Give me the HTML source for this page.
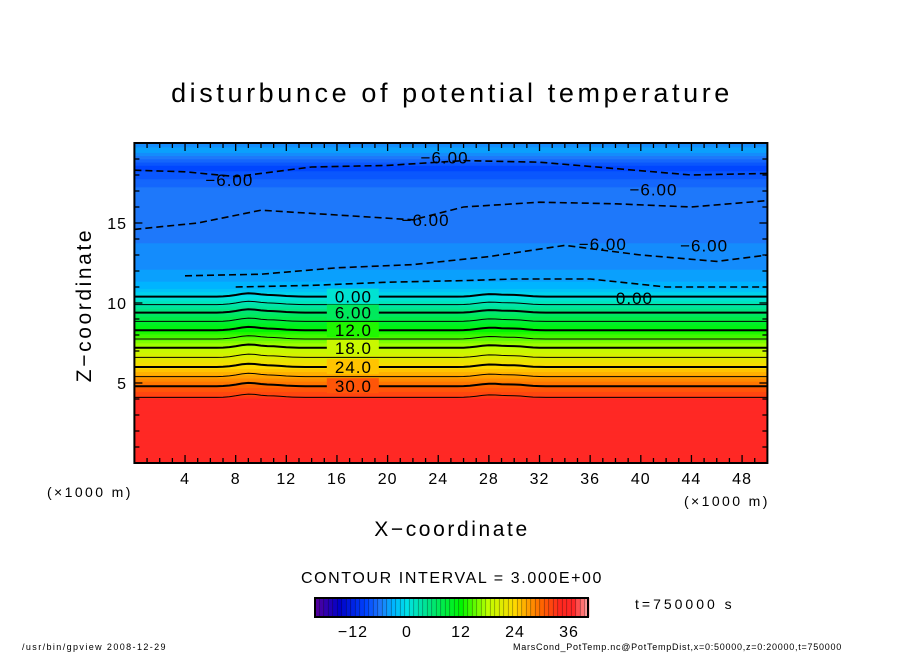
<!DOCTYPE html>
<html><head><meta charset="utf-8"><style>
html,body{margin:0;padding:0;background:#fff;}
svg{display:block;font-family:"Liberation Sans",sans-serif;}
</style></head><body>
<svg id="chart" width="904" height="654" viewBox="0 0 904 654">
<text x="452" y="102" text-anchor="middle" font-size="27" letter-spacing="3.6">disturbunce of potential temperature</text>
<g id="field"></g>
<g id="contours"></g>
<g id="axes"></g>
<text x="47" y="497" font-size="14" letter-spacing="2.4">(×1000 m)</text>
<text x="684" y="506" font-size="14" letter-spacing="2.4">(×1000 m)</text>
<text x="452" y="536" text-anchor="middle" font-size="21" letter-spacing="2.6">X−coordinate</text>
<text transform="translate(91,305) rotate(-90)" text-anchor="middle" font-size="21" letter-spacing="2.6">Z−coordinate</text>
<text x="452" y="583" text-anchor="middle" font-size="16" letter-spacing="1.6">CONTOUR INTERVAL = 3.000E+00</text>
<g id="cbar"></g>
<text x="635" y="609" font-size="14" letter-spacing="3">t=750000 s</text>
<text x="22" y="650" font-size="9" letter-spacing="1.4">/usr/bin/gpview   2008-12-29</text>
<text x="513" y="650" font-size="9" letter-spacing="0.75">MarsCond_PotTemp.nc@PotTempDist,x=0:50000,z=0:20000,t=750000</text>
</svg>
<script>
const xTicks=[4,8,12,16,20,24,28,32,36,40,44,48];
const zTicks=[5,10,15];
const profileZ=[0,3.9,4.1,4.8,6.0,7.2,8.3,9.4,10.4,11.0,12.5,15,17,18.5,19.5,20];
const profileT=[36,36,33,30,24,18,12,6,0,-3,-5,-6,-6,-9,-4,-5];
const contourLevels=[0,3,6,9,12,15,18,21,24,27,30,33];
const bumpX=[9,11,28,30];
const bumpDz=[0.2,0.08,0.15,0.1];
const cbarTicks=[-12,0,12,24,36];
const dash1=[[0,18.3],[4,18.2],[8,17.9],[14,18.5],[20,18.6],[26,18.9],[32,18.8],[38,18.4],[44,18.0],[50,18.1]];
const dash2=[[0,14.6],[5,15.0],[10,15.8],[16,15.5],[22,15.2],[26,16.0],[32,16.3],[38,16.2],[44,16.0],[50,16.4]];
const dash3=[[4,11.7],[10,11.8],[16,12.2],[22,12.4],[28,12.9],[34,13.6],[40,13.0],[46,12.6],[50,13.0]];
const dash4=[[8,11.0],[14,11.1],[20,11.3],[26,11.4],[30,11.5],[36,11.5],[42,11.0],[50,11.0]];
const ns='http://www.w3.org/2000/svg';
const X0=134.4,XS=12.66,Z0=463,ZS=16;
const sx=x=>X0+x*XS, sz=z=>Z0-z*ZS;
const stops=[[-21,[96,0,150]],[-15,[0,0,200]],[-9,[0,70,255]],[-6,[30,120,250]],[-3,[0,180,255]],[0,[0,225,230]],[6,[0,230,110]],[12,[0,245,0]],[18,[190,255,0]],[24,[255,215,0]],[30,[255,100,0]],[34,[255,40,30]],[37,[255,40,40]],[40,[255,150,150]]];
function col(t){t=Math.round(t);if(t<=stops[0][0])return 'rgb('+stops[0][1]+')';
for(let i=1;i<stops.length;i++){if(t<=stops[i][0]){const a=stops[i-1],b=stops[i],f=(t-a[0])/(b[0]-a[0]);
return 'rgb('+a[1].map((v,k)=>Math.round(v+(b[1][k]-v)*f)).join(',')+')';}}return 'rgb('+stops[stops.length-1][1]+')';}
function theta(z){for(let i=1;i<profileZ.length;i++){if(z<=profileZ[i]){const f=(z-profileZ[i-1])/(profileZ[i]-profileZ[i-1]);return profileT[i-1]+(profileT[i]-profileT[i-1])*f;}}return profileT[profileT.length-1];}
function mk(tag,attrs,parent){const e=document.createElementNS(ns,tag);for(const k in attrs)e.setAttribute(k,attrs[k]);parent.appendChild(e);return e;}
const field=document.getElementById('field');
for(let z=0;z<20;z+=0.05){
const r=mk('rect',{x:sx(0),y:sz(z+0.05)-0.3,width:sx(50)-sx(0),height:ZS*0.05+0.6,fill:col(theta(z+0.025))},field);

}
const cont=document.getElementById('contours');
function bump(x){let d=0;for(let i=0;i<bumpX.length;i++){d+=bumpDz[i]*Math.exp(-Math.pow((x-bumpX[i])/1.2,2));}return d;}
function zOf(level){for(let i=1;i<profileZ.length;i++){const a=profileT[i-1],b=profileT[i];if((a-level)*(b-level)<=0&&a!==b){return profileZ[i-1]+(level-a)/(b-a)*(profileZ[i]-profileZ[i-1]);}}return null;}
contourLevels.forEach(l=>{const z=zOf(l);if(z===null)return;let d='';
for(let x=0;x<=50;x+=0.5){d+=(x?'L':'M')+sx(x).toFixed(1)+','+sz(z+bump(x)).toFixed(1);}
const p=mk('path',{d:d,fill:'none',stroke:'#000','stroke-width':(l%6===0)?2:1},cont);


if(l%6===0&&l<=30){const lab=(l<10?l.toFixed(2):l.toFixed(1));
const bg=mk('rect',{x:sx(15.2),y:sz(z)-8,width:52,height:15,fill:col(l+1)},cont);


const t=mk('text',{x:sx(17.3),y:sz(z)+6,'text-anchor':'middle','font-size':17,'letter-spacing':1},cont);t.textContent=lab;

}});
[dash1,dash2,dash3,dash4].forEach((arr,i)=>{const d=arr.map((p,j)=>(j?'L':'M')+sx(p[0]).toFixed(1)+','+sz(p[1]).toFixed(1)).join('');
const p=mk('path',{d:d,fill:'none',stroke:'#000','stroke-width':1.6,'stroke-dasharray':'7,4'},cont);

});
const labs=[[24.5,19.1,'−6.00'],[7.5,17.7,'−6.00'],[23,15.2,'−6.00'],[41,17.1,'−6.00'],[37,13.7,'−6.00'],[45,13.6,'−6.00'],[39.5,10.3,'0.00']];
labs.forEach(a=>{const t=mk('text',{x:sx(a[0]),y:sz(a[1])+6,'text-anchor':'middle','font-size':17,'letter-spacing':1},cont);t.textContent=a[2];

});
const ax=document.getElementById('axes');
const fr=mk('rect',{x:sx(0),y:sz(20),width:sx(50)-sx(0),height:sz(0)-sz(20),fill:'none',stroke:'#000','stroke-width':2},ax);


for(let x=1;x<50;x++){const L=x%4===0?8:5;
mk('line',{x1:sx(x),x2:sx(x),y1:sz(0),y2:sz(0)-L,stroke:'#000','stroke-width':1.3},ax);
mk('line',{x1:sx(x),x2:sx(x),y1:sz(20),y2:sz(20)+L,stroke:'#000','stroke-width':1.3},ax);}
for(let z=1;z<20;z++){const L=z%5===0?8:5;
mk('line',{x1:sx(0),x2:sx(0)+L,y1:sz(z),y2:sz(z),stroke:'#000','stroke-width':1.3},ax);
mk('line',{x1:sx(50),x2:sx(50)-L,y1:sz(z),y2:sz(z),stroke:'#000','stroke-width':1.3},ax);}
xTicks.forEach(v=>{const t=mk('text',{x:sx(v),y:484,'text-anchor':'middle','font-size':16,'letter-spacing':1},ax);t.textContent=v;

});
zTicks.forEach(v=>{const t=mk('text',{x:127,y:sz(v)+6,'text-anchor':'end','font-size':16,'letter-spacing':1},ax);t.textContent=v;

});
const cb=document.getElementById('cbar');
const CX0=407,CS=4.5,cy=598,ch=19;
for(let v=-20.5;v<40;v+=1){const r=mk('rect',{x:CX0+v*CS,y:cy,width:CS+0.2,height:ch,fill:col(v+0.5)},cb);


mk('line',{x1:CX0+v*CS,x2:CX0+v*CS,y1:cy,y2:cy+ch,stroke:'#000','stroke-width':0.6,'stroke-opacity':0.5},cb);}
mk('rect',{x:315,y:cy,width:273,height:ch,fill:'none',stroke:'#000','stroke-width':2},cb);
cbarTicks.forEach(v=>{const t=mk('text',{x:CX0+v*CS,y:637,'text-anchor':'middle','font-size':16,'letter-spacing':1},cb);t.textContent=v<0?'−'+(-v):v;

});
</script>
</body></html>
